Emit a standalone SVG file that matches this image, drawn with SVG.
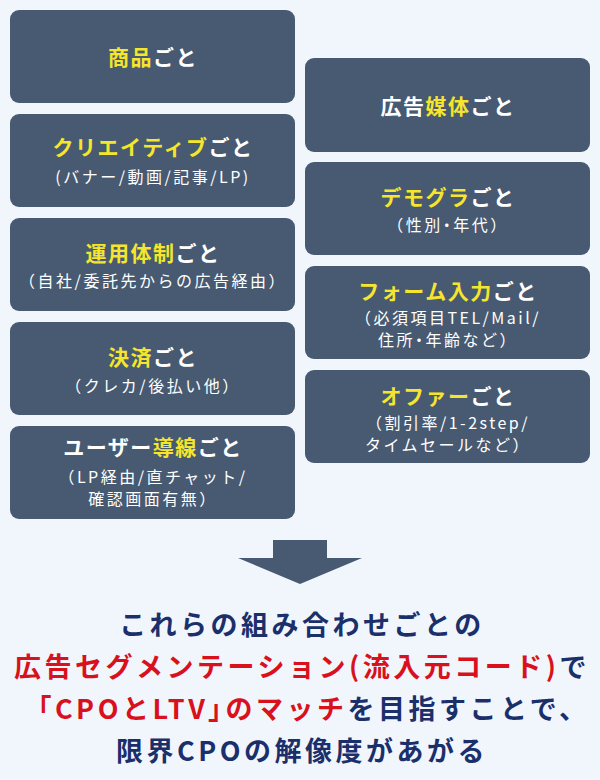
<svg xmlns="http://www.w3.org/2000/svg" width="600" height="780" viewBox="0 0 600 780">
<style>
.bg{fill:#f1f6fd}
.box{fill:#475a71}
.t{font-family:"Noto Sans CJK JP","Noto Sans",sans-serif;font-weight:bold;font-size:21px;letter-spacing:1.5px;fill:#ffffff;text-anchor:middle}
.y{fill:#f5e52d}
.s{font-family:"Noto Sans CJK JP","Noto Sans",sans-serif;font-weight:normal;font-size:16px;letter-spacing:2.5px;fill:#ffffff;text-anchor:middle}
.m{font-family:"Noto Sans CJK JP","Noto Sans",sans-serif;font-weight:bold;font-size:27px;letter-spacing:3.5px;fill:#1b2f6b;text-anchor:middle}
.r{fill:#d8111c}
.p{font-feature-settings:"palt" 1}
</style>
<rect class="bg" x="0" y="0" width="600" height="780"/>
<g id="node-shohin">
<rect class="box" x="10" y="10" width="285" height="93" rx="9"/>
<text class="t" x="153" y="65"><tspan class="y">商品</tspan>ごと</text>
</g>
<g id="node-creative">
<rect class="box" x="10" y="114" width="285" height="93" rx="9"/>
<text class="t" x="153" y="155"><tspan class="y">クリエイティブ</tspan>ごと</text>
<text class="s" x="153" y="183">(バナー/動画/記事/LP)</text>
</g>
<g id="node-unyo">
<rect class="box" x="10" y="218" width="285" height="93" rx="9"/>
<text class="t" x="153" y="261"><tspan class="y">運用体制</tspan>ごと</text>
<text class="s" x="153" y="287">（自社/委託先からの広告経由）</text>
</g>
<g id="node-kessai">
<rect class="box" x="10" y="322" width="285" height="93" rx="9"/>
<text class="t" x="153" y="365"><tspan class="y">決済</tspan>ごと</text>
<text class="s" x="153" y="392">（クレカ/後払い他）</text>
</g>
<g id="node-user">
<rect class="box" x="10" y="426" width="285" height="93" rx="9"/>
<text class="t" x="153" y="455">ユーザー<tspan class="y">導線</tspan>ごと</text>
<text class="s" x="153" y="483">（LP経由/直チャット/</text>
<text class="s" x="153" y="505">確認画面有無）</text>
</g>
<g id="node-media">
<rect class="box" x="305" y="58" width="285" height="94" rx="9"/>
<text class="t" x="448" y="114">広告<tspan class="y">媒体</tspan>ごと</text>
</g>
<g id="node-demogra">
<rect class="box" x="305" y="162" width="285" height="93" rx="9"/>
<text class="t" x="448" y="205"><tspan class="y">デモグラ</tspan>ごと</text>
<text class="s" x="448" y="231">（性別<tspan class="p">・</tspan>年代）</text>
</g>
<g id="node-form">
<rect class="box" x="305" y="266" width="285" height="93" rx="9"/>
<text class="t" x="448" y="299"><tspan class="y">フォーム入力</tspan>ごと</text>
<text class="s" x="448" y="324">（必須項目TEL/Mail/</text>
<text class="s" x="448" y="346">住所<tspan class="p">・</tspan>年齢など）</text>
</g>
<g id="node-offer">
<rect class="box" x="305" y="370" width="285" height="93" rx="9"/>
<text class="t" x="448" y="404"><tspan class="y">オファー</tspan>ごと</text>
<text class="s" x="448" y="429">（割引率/1-2step/</text>
<text class="s" x="448" y="451">タイムセールなど）</text>
</g>
<g id="connectors">
<path class="box" d="M273,540 H327 V558 H362 L300,584 L238,558 H273 Z"/>
</g>
<g id="conclusion">
<text class="m" x="302" y="635">これらの組み合わせごとの</text>
<text class="m" x="302" y="677"><tspan class="r">広告セグメンテーション(流入元コード)</tspan>で</text>
<text class="m" x="307" y="719"><tspan class="r">「CPOとLTV<tspan class="p">」</tspan>のマッチ</tspan>を目指すことで、</text>
<text class="m" x="302" y="761">限界CPOの解像度があがる</text>
</g>
</svg>
